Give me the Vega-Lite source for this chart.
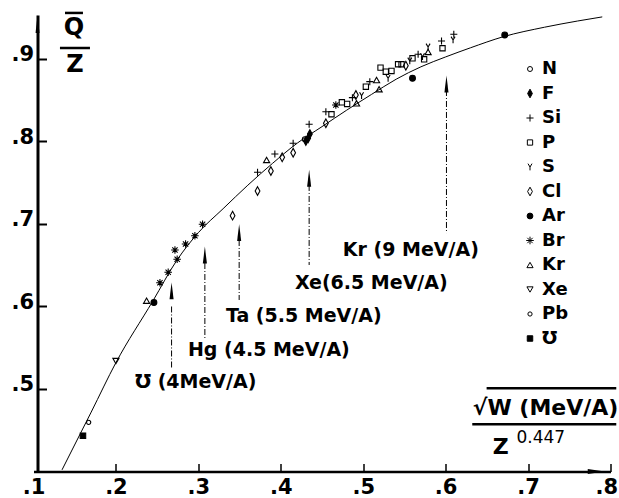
{
  "$schema": "https://vega.github.io/schema/vega-lite/v6.json",
  "width": 577,
  "height": 456.5,
  "autosize": "none",
  "padding": {"left": 33.5, "top": 15, "right": 8.5, "bottom": 26.5},
  "background": "white",
  "config": {
    "view": {"stroke": null},
    "font": "DejaVu Sans",
    "legend": {
      "orient": "none", "legendX": 487.5, "legendY": 45,
      "title": null, "padding": 0,
      "labelFont": "DejaVu Sans", "labelFontWeight": "bold", "labelFontSize": 18,
      "labelColor": "black", "labelOffset": 3, "rowPadding": 6.5,
      "symbolStrokeColor": "black", "symbolStrokeWidth": 1
    }
  },
  "datasets": {
    "curve": [
      {"x": 0.1346, "y": 0.402}, {"x": 0.17, "y": 0.472}, {"x": 0.2, "y": 0.532},
      {"x": 0.245, "y": 0.607}, {"x": 0.2736, "y": 0.6555}, {"x": 0.30, "y": 0.6895},
      {"x": 0.33, "y": 0.7185}, {"x": 0.36, "y": 0.747}, {"x": 0.39, "y": 0.7735},
      {"x": 0.42, "y": 0.798}, {"x": 0.45, "y": 0.818}, {"x": 0.48, "y": 0.838},
      {"x": 0.51, "y": 0.857}, {"x": 0.54, "y": 0.8755}, {"x": 0.57, "y": 0.8905},
      {"x": 0.60, "y": 0.9025}, {"x": 0.63, "y": 0.9135}, {"x": 0.67, "y": 0.927},
      {"x": 0.72, "y": 0.9385}, {"x": 0.76, "y": 0.946}, {"x": 0.79, "y": 0.951}
    ],
    "points": [
      {"x": 0.160, "y": 0.4434, "el": "Ʊ"},
      {"x": 0.1669, "y": 0.4596, "el": "Pb"},
      {"x": 0.2, "y": 0.5339, "el": "Xe"},
      {"x": 0.2372, "y": 0.607, "el": "Kr"},
      {"x": 0.2461, "y": 0.6048, "el": "Ar"},
      {"x": 0.2534, "y": 0.6288, "el": "Br"},
      {"x": 0.2634, "y": 0.6415, "el": "Br"},
      {"x": 0.2743, "y": 0.6572, "el": "Br"},
      {"x": 0.2716, "y": 0.6685, "el": "Br"},
      {"x": 0.2845, "y": 0.6758, "el": "Br"},
      {"x": 0.2958, "y": 0.6858, "el": "Br"},
      {"x": 0.3051, "y": 0.6996, "el": "Br"},
      {"x": 0.3415, "y": 0.7101, "el": "Cl"},
      {"x": 0.3718, "y": 0.74, "el": "Cl"},
      {"x": 0.3718, "y": 0.7627, "el": "Si"},
      {"x": 0.3828, "y": 0.7776, "el": "Kr"},
      {"x": 0.388, "y": 0.7642, "el": "Cl"},
      {"x": 0.3928, "y": 0.7848, "el": "Si"},
      {"x": 0.4017, "y": 0.7808, "el": "Cl"},
      {"x": 0.415, "y": 0.7978, "el": "Si"},
      {"x": 0.415, "y": 0.7864, "el": "Cl"},
      {"x": 0.4292, "y": 0.8027, "el": "N"},
      {"x": 0.4332, "y": 0.8039, "el": "F"},
      {"x": 0.4353, "y": 0.8091, "el": "F"},
      {"x": 0.4304, "y": 0.8006, "el": "F"},
      {"x": 0.4344, "y": 0.8209, "el": "Si"},
      {"x": 0.4547, "y": 0.8221, "el": "Cl"},
      {"x": 0.4547, "y": 0.8361, "el": "Si"},
      {"x": 0.4615, "y": 0.833, "el": "P"},
      {"x": 0.4668, "y": 0.8442, "el": "Br"},
      {"x": 0.4741, "y": 0.8475, "el": "P"},
      {"x": 0.4805, "y": 0.8455, "el": "P"},
      {"x": 0.4919, "y": 0.8463, "el": "Kr"},
      {"x": 0.4911, "y": 0.8564, "el": "Cl"},
      {"x": 0.498, "y": 0.8555, "el": "S"},
      {"x": 0.4869, "y": 0.8531, "el": "Si"},
      {"x": 0.508, "y": 0.8725, "el": "Si"},
      {"x": 0.5032, "y": 0.8664, "el": "P"},
      {"x": 0.5162, "y": 0.8745, "el": "Kr"},
      {"x": 0.5193, "y": 0.8633, "el": "Kr"},
      {"x": 0.521, "y": 0.8895, "el": "P"},
      {"x": 0.5274, "y": 0.8846, "el": "P"},
      {"x": 0.5343, "y": 0.8855, "el": "P"},
      {"x": 0.5302, "y": 0.8766, "el": "S"},
      {"x": 0.5423, "y": 0.8936, "el": "P"},
      {"x": 0.5465, "y": 0.8936, "el": "P"},
      {"x": 0.5517, "y": 0.8919, "el": "Cl"},
      {"x": 0.5565, "y": 0.8976, "el": "S"},
      {"x": 0.5598, "y": 0.9008, "el": "P"},
      {"x": 0.5666, "y": 0.9057, "el": "Si"},
      {"x": 0.5719, "y": 0.9028, "el": "S"},
      {"x": 0.5739, "y": 0.8996, "el": "P"},
      {"x": 0.5787, "y": 0.9145, "el": "S"},
      {"x": 0.5787, "y": 0.9085, "el": "Kr"},
      {"x": 0.595, "y": 0.9218, "el": "Si"},
      {"x": 0.5962, "y": 0.913, "el": "P"},
      {"x": 0.6099, "y": 0.93, "el": "Si"},
      {"x": 0.609, "y": 0.923, "el": "S"},
      {"x": 0.5598, "y": 0.8766, "el": "Ar"},
      {"x": 0.6717, "y": 0.9291, "el": "Ar"}
    ],
    "arrows": [
      {"x": 0.2675, "y": 0.619, "y1": 0.600, "y2": 0.5255},
      {"x": 0.3079, "y": 0.6624, "y1": 0.6527, "y2": 0.5618},
      {"x": 0.3495, "y": 0.6897, "y1": 0.6806, "y2": 0.6079},
      {"x": 0.4344, "y": 0.7554, "y1": 0.7473, "y2": 0.6503},
      {"x": 0.601, "y": 0.8697, "y1": 0.8624, "y2": 0.689}
    ],
    "labels": [
      {"x": 0.4753, "y": 0.6679, "t": "Kr (9 MeV/A)"},
      {"x": 0.4171, "y": 0.6279, "t": "Xe(6.5 MeV/A)"},
      {"x": 0.3334, "y": 0.5879, "t": "Ta (5.5 MeV/A)"},
      {"x": 0.2873, "y": 0.5473, "t": "Hg (4.5 MeV/A)"},
      {"x": 0.223, "y": 0.5085, "t": "Ʊ (4MeV/A)"}
    ],
    "ytitle": [
      {"x": 0.1491, "y": 0.937, "t": "Q"},
      {"x": 0.1503, "y": 0.8927, "t": "Z"}
    ],
    "xtitle": [
      {"x": 0.6329, "y": 0.4764, "t": "√W (MeV/A)"},
      {"x": 0.6572, "y": 0.4303, "t": "Z"}
    ],
    "xexp": [
      {"x": 0.6859, "y": 0.4412, "t": "0.447"}
    ],
    "bars": [
      {"x": 0.1321, "x2": 0.1685, "y": 0.9133},
      {"x": 0.1382, "x2": 0.16, "y": 0.9558},
      {"x": 0.6323, "x2": 0.807, "y": 0.4572},
      {"x": 0.6497, "x2": 0.807, "y": 0.5009}
    ],
    "yarrow": [{"x": 0.1049, "y": 0.9424}],
    "xarrow": [{"x": 0.7827, "y": 0.4}]
  },
  "encoding": {
    "x": {
      "field": "x", "type": "quantitative",
      "scale": {"domain": [0.1, 0.8], "nice": false, "zero": false},
      "axis": {
        "values": [0.1, 0.2, 0.3, 0.4, 0.5, 0.6, 0.7, 0.8],
        "labelExpr": "replace(format(datum.value, '.1f'), '0.', '.')",
        "labelFont": "DejaVu Sans", "labelFontWeight": "bold", "labelFontSize": 21,
        "labelColor": "black", "labelBaseline": "bottom", "labelPadding": 33.5,
        "labelAlign": {"condition": {"test": "datum.value > 0.75", "value": "right"}, "value": "center"},
        "labelOffset": {"condition": {"test": "datum.value > 0.75", "value": 7}, "value": 0},
        "tickSize": -8, "tickWidth": 1.5, "tickColor": "black",
        "tickOpacity": {"condition": {"test": "datum.value < 0.15", "value": 0}, "value": 1},
        "domainColor": "black", "domainWidth": 2.5,
        "grid": false, "title": null, "labelFlush": false
      }
    },
    "y": {
      "field": "y", "type": "quantitative",
      "scale": {"domain": [0.4, 0.9533], "nice": false, "zero": false},
      "axis": {
        "values": [0.5, 0.6, 0.7, 0.8, 0.9],
        "labelExpr": "replace(format(datum.value, '.1f'), '0.', '.')",
        "labelFont": "DejaVu Sans", "labelFontWeight": "bold", "labelFontSize": 21,
        "labelColor": "black", "labelBaseline": "alphabetic", "labelOffset": 2,
        "labelPadding": 13, "offset": -4,
        "tickSize": -9, "tickWidth": 2, "tickColor": "black",
        "domainColor": "black", "domainWidth": 3,
        "grid": false, "title": null
      }
    }
  },
  "layer": [
    {
      "data": {"name": "curve"},
      "mark": {"type": "line", "color": "black", "strokeWidth": 1, "interpolate": "monotone"}
    },
    {
      "data": {"name": "points"},
      "mark": {"type": "point", "strokeWidth": 1.1, "opacity": 1},
      "encoding": {
        "shape": {
          "field": "el", "type": "nominal",
          "scale": {
            "domain": ["N", "F", "Si", "P", "S", "Cl", "Ar", "Br", "Kr", "Xe", "Pb", "Ʊ"],
            "range": [
              "circle",
              "M0,-1L0.55,0L0,1L-0.55,0Z",
              "M-1,0L1,0M0,-1L0,1",
              "square",
              "M-0.6,-1L0,0L0.6,-1M0,0L0,1",
              "M0,-1L0.55,0L0,1L-0.55,0Z",
              "circle",
              "M-1,0L1,0M0,-1L0,1M-0.7,-0.7L0.7,0.7M-0.7,0.7L0.7,-0.7",
              "triangle-up",
              "triangle-down",
              "circle",
              "square"
            ]
          }
        },
        "stroke": {
          "field": "el", "type": "nominal",
          "scale": {
            "domain": ["N", "F", "Si", "P", "S", "Cl", "Ar", "Br", "Kr", "Xe", "Pb", "Ʊ"],
            "range": ["black", "black", "black", "black", "black", "black", "black", "black", "black", "black", "black", "black"]
          }
        },
        "fill": {
          "field": "el", "type": "nominal",
          "scale": {
            "domain": ["N", "F", "Si", "P", "S", "Cl", "Ar", "Br", "Kr", "Xe", "Pb", "Ʊ"],
            "range": ["transparent", "black", "transparent", "transparent", "transparent", "transparent", "black", "black", "transparent", "transparent", "transparent", "black"]
          }
        },
        "size": {
          "field": "el", "type": "nominal",
          "scale": {
            "type": "ordinal",
            "domain": ["N", "F", "Si", "P", "S", "Cl", "Ar", "Br", "Kr", "Xe", "Pb", "Ʊ"],
            "range": [25, 75, 50, 28, 45, 75, 34, 58, 38, 38, 18, 30]
          }
        }
      }
    },
    {
      "data": {"name": "arrows"},
      "mark": {"type": "rule", "color": "black", "strokeWidth": 1, "strokeDash": [6, 2, 1, 2]},
      "encoding": {
        "y": {"field": "y1", "type": "quantitative"},
        "y2": {"field": "y2"}
      }
    },
    {
      "data": {"name": "arrows"},
      "mark": {"type": "point", "shape": "M0,-1L0.24,1L-0.24,1Z", "filled": true, "color": "black", "opacity": 1, "size": 289}
    },
    {
      "data": {"name": "labels"},
      "mark": {"type": "text", "align": "left", "baseline": "middle", "font": "DejaVu Sans", "fontWeight": "bold", "fontSize": 19, "color": "black"},
      "encoding": {"text": {"field": "t"}}
    },
    {
      "data": {"name": "ytitle"},
      "mark": {"type": "text", "align": "center", "baseline": "middle", "font": "DejaVu Sans", "fontWeight": "bold", "fontSize": 24, "color": "black"},
      "encoding": {"text": {"field": "t"}}
    },
    {
      "data": {"name": "xtitle"},
      "mark": {"type": "text", "align": "left", "baseline": "middle", "font": "DejaVu Sans", "fontWeight": "bold", "fontSize": 22, "color": "black"},
      "encoding": {"text": {"field": "t"}}
    },
    {
      "data": {"name": "xexp"},
      "mark": {"type": "text", "align": "left", "baseline": "middle", "font": "DejaVu Sans", "fontSize": 17, "color": "black"},
      "encoding": {"text": {"field": "t"}}
    },
    {
      "data": {"name": "bars"},
      "mark": {"type": "rule", "color": "black", "strokeWidth": 2.5},
      "encoding": {"x2": {"field": "x2"}}
    },
    {
      "data": {"name": "yarrow"},
      "mark": {"type": "point", "shape": "M0,-1L0.22,1L-0.22,1Z", "filled": true, "color": "black", "opacity": 1, "size": 324}
    },
    {
      "data": {"name": "xarrow"},
      "mark": {"type": "point", "shape": "M1,0L-1,-0.3L-1,0.3Z", "filled": true, "color": "black", "opacity": 1, "size": 289}
    }
  ]
}
